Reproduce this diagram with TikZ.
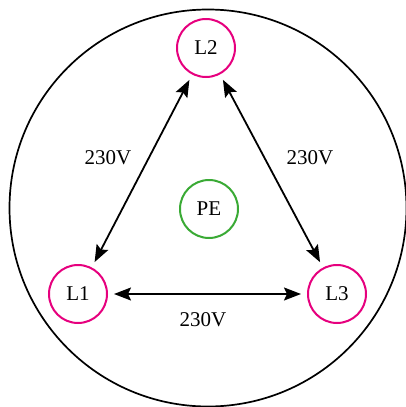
\documentclass[tikz,border=0pt]{standalone}
\usepackage{fontspec}
\setmainfont{Liberation Serif}
\usetikzlibrary{arrows.meta}
\definecolor{phase}{RGB}{230,0,126}
\definecolor{earth}{RGB}{58,170,53}
\begin{document}
\begin{tikzpicture}[x=1pt,y=-1pt,
  conductor/.style={circle, draw=phase, line width=2pt, minimum size=58pt, inner sep=0pt, outer sep=0pt, font=\fontsize{21}{24}\selectfont},
  ground/.style={conductor, draw=earth},
  voltage/.style={font=\fontsize{21}{24}\selectfont, inner sep=0pt},
  link/.style={line width=1.8pt, {Stealth[length=17pt,width=13pt,inset=3pt]}-{Stealth[length=17pt,width=13pt,inset=3pt]}, shorten <=7pt, shorten >=7pt}
]
\useasboundingbox (0,0) rectangle (406,407);
\draw[line width=1.7pt] (208,208) circle[radius=198.5];
\node[conductor] (L2) at (206,48) {L2};
\node[conductor] (L1) at (78,294) {L1};
\node[conductor] (L3) at (337,294) {L3};
\node[ground] (PE) at (209,209) {PE};
\draw[link] (L1) -- (L2);
\draw[link] (L2) -- (L3);
\draw[link] (L1) -- (L3);
\node[voltage] (v12) at (108,158) {230V};
\node[voltage] (v23) at (310,158) {230V};
\node[voltage] (v13) at (203,320) {230V};
\end{tikzpicture}
\end{document}
